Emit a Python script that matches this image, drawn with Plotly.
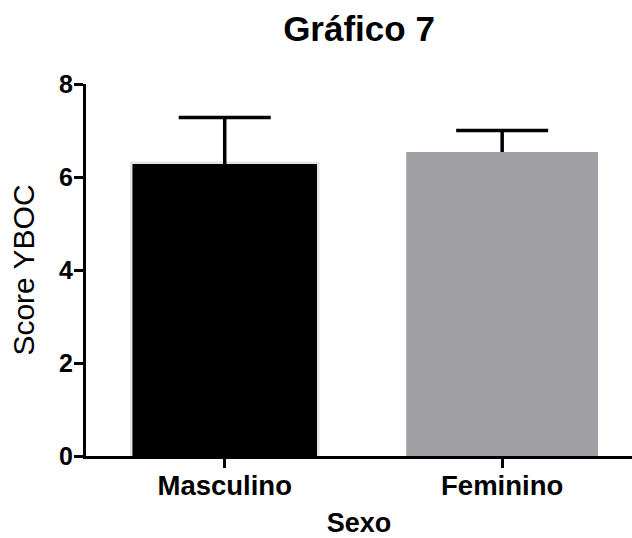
import plotly.graph_objects as go

categories = ["Masculino", "Feminino"]
means = [6.28, 6.54]
errors = [1.0, 0.46]
bar_colors = ["#000000", "#a09fa4"]
title_text = "Gráfico 7"
x_title = "Sexo"
y_title = "Score YBOC"
y_ticks = [0, 2, 4, 6, 8]

FONT = "Arial, Liberation Sans, sans-serif"
widths = [0.665, 0.69]

fig = go.Figure()
# Back layer: bars with error bars (lower half hidden by front layer)
fig.add_trace(go.Bar(
    x=categories, y=means, width=widths,
    marker=dict(color=bar_colors,
                line=dict(color=["#e4e4e4", "#a09fa4"], width=[5, 0])),
    error_y=dict(type="data", array=errors, symmetric=True,
                 color="#000000", thickness=3.5, width=46),
    showlegend=False, hoverinfo="skip",
))
# Front layer: same bars, covering the lower half of the error bars
fig.add_trace(go.Bar(
    x=categories, y=means, width=widths,
    marker=dict(color=bar_colors, line=dict(width=0)),
    showlegend=False,
))

fig.update_layout(
    barmode="overlay",
    width=632, height=538,
    margin=dict(l=86, r=0, t=84, b=82, autoexpand=False),
    paper_bgcolor="white", plot_bgcolor="white",
    font=dict(family=FONT, color="#000000"),
    title=dict(text=title_text, x=(86 + 632) / 2 / 632, xanchor="center",
               xref="container", yref="container", y=1 - 29 / 538, yanchor="middle",
               font=dict(size=35, weight="bold", family=FONT, color="#000000")),
)
fig.update_xaxes(
    type="category", range=[-0.5, 1.468], automargin=False,
    showline=True, linecolor="#000000", linewidth=3,
    ticks="outside", ticklen=9, tickwidth=3, tickcolor="#000000",
    tickfont=dict(size=27.5, weight="bold", family=FONT, color="#000000"),
    ticklabelstandoff=-6,
    showgrid=False, zeroline=False,
    title=dict(text=x_title, standoff=17,
               font=dict(size=27, weight="bold", family=FONT, color="#000000")),
)
fig.update_yaxes(
    range=[0, 8], tickvals=y_ticks, automargin=False,
    showline=True, linecolor="#000000", linewidth=3,
    ticks="outside", ticklen=9, tickwidth=3, tickcolor="#000000",
    tickfont=dict(size=25, weight="bold", family=FONT, color="#000000"),
    ticklabelstandoff=-4,
    showgrid=False, zeroline=False,
    title=dict(text=y_title, standoff=16,
               font=dict(size=30, family=FONT, color="#000000")),
)

fig.write_html("out.html", config={"displayModeBar": False},
               post_script="document.body.style.margin='0';")
